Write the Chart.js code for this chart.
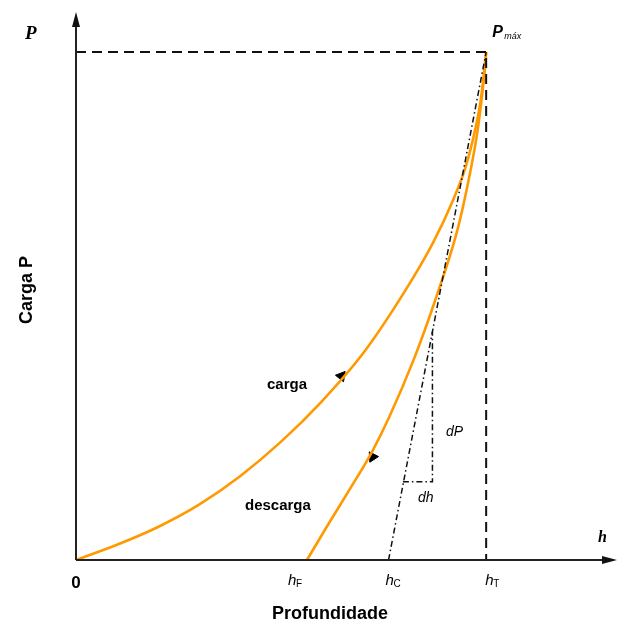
<!DOCTYPE html>
<html><head><meta charset="utf-8">
<script src="https://cdn.jsdelivr.net/npm/chart.js@4.4.0/dist/chart.umd.min.js"></script>
<style>html,body{margin:0;padding:0;background:#fff}#wrap{width:624px;height:627px}</style>
</head><body><div id="wrap"><canvas id="c" width="624" height="627"></canvas></div>
<script>
// Data (normalized: h/hT, P/Pmax)
const loadH = [0, 0.1, 0.2, 0.3, 0.4, 0.5, 0.6, 0.7, 0.8, 0.87, 0.92, 0.95, 0.975, 0.987, 0.995, 1.0];
const loadP = [0, 0.030, 0.065, 0.109, 0.165, 0.233, 0.313, 0.407, 0.527, 0.624, 0.710, 0.774, 0.854, 0.907, 0.961, 1.0];
const unloadH = [0.563, 0.611, 0.665, 0.723, 0.764, 0.825, 0.873, 0.930, 0.959, 0.979, 0.991, 0.998, 1.0];
const unloadP = [0, 0.065, 0.136, 0.215, 0.282, 0.398, 0.505, 0.650, 0.755, 0.845, 0.922, 0.975, 1.0];
const tangentH = [0.762, 1.0];
const tangentP = [0, 1.0];
const triH = [0.797, 0.869, 0.869];
const triP = [0.154, 0.154, 0.45];
const maxH = [0, 1.0, 1.0];
const maxP = [1.0, 1.0, 0];
const arrowH = [0.647, 0.723];
const arrowP = [0.362, 0.203];
const arrowRot = [39, 207];
const tickH = [0, 0.563, 0.762, 1.0];
const tickLabels = ['0', 'F', 'C', 'T'];
const X_MAX = 1.319, Y_MAX = 1.079;

const pts = (xs, ys) => xs.map((x, i) => ({x, y: ys[i]}));
const orange = '#FF9900';
const labelShift = [0, -19, -3, -1];

const deco = {
  id: 'deco',
  afterDatasetsDraw(chart) {
    const ctx = chart.ctx, xs = chart.scales.x, ys = chart.scales.y;
    const px = v => xs.getPixelForValue(v), py = v => ys.getPixelForValue(v);
    const x0 = px(0), y0 = py(0), xe = px(X_MAX), ye = py(Y_MAX);
    ctx.save();
    ctx.strokeStyle = '#222'; ctx.fillStyle = '#111'; ctx.lineWidth = 2;
    ctx.beginPath(); ctx.moveTo(x0, y0); ctx.lineTo(xe - 8, y0); ctx.stroke();
    ctx.beginPath(); ctx.moveTo(x0, y0); ctx.lineTo(x0, ye + 8); ctx.stroke();
    ctx.beginPath(); ctx.moveTo(xe, y0); ctx.lineTo(xe - 15, y0 - 4); ctx.lineTo(xe - 15, y0 + 4); ctx.closePath(); ctx.fill();
    ctx.beginPath(); ctx.moveTo(x0, ye); ctx.lineTo(x0 - 4, ye + 15); ctx.lineTo(x0 + 4, ye + 15); ctx.closePath(); ctx.fill();
    ctx.fillStyle = '#000';
    ctx.textBaseline = 'alphabetic';
    ctx.font = 'italic bold 19px "Liberation Serif"';
    ctx.textAlign = 'left';
    ctx.fillText('P', 25, 39);
    ctx.font = 'italic bold 16px "Liberation Serif"';
    ctx.fillText('h', 598, 542);
    ctx.font = 'italic bold 16px "Liberation Sans"';
    ctx.fillText('P', px(1.0) + 6, py(1.0) - 15);
    ctx.font = 'italic 9px "Liberation Sans"';
    ctx.fillText('máx', px(1.0) + 18, py(1.0) - 13);
    tickH.forEach((h, i) => {
      const x = px(h) + labelShift[i];
      if (i === 0) {
        ctx.font = 'bold 17px "Liberation Sans"'; ctx.textAlign = 'center';
        ctx.fillText(tickLabels[i], x, y0 + 28);
      } else {
        ctx.font = 'italic 15px "Liberation Sans"'; ctx.textAlign = 'left';
        ctx.fillText('h', x, y0 + 25);
        ctx.font = '10px "Liberation Sans"';
        ctx.fillText(tickLabels[i], x + 8, y0 + 27);
      }
    });
    ctx.font = 'bold 18px "Liberation Sans"'; ctx.textAlign = 'center';
    ctx.fillText('Profundidade', 330, 619);
    ctx.save(); ctx.translate(32, 290); ctx.rotate(-Math.PI / 2);
    ctx.fillText('Carga P', 0, 0); ctx.restore();
    ctx.font = 'bold 15px "Liberation Sans"'; ctx.textAlign = 'left';
    ctx.fillText('carga', 267, 389);
    ctx.fillText('descarga', 245, 510);
    ctx.font = 'italic 14px "Liberation Sans"';
    ctx.fillText('dP', 446, 436);
    ctx.fillText('dh', 418, 502);
    ctx.restore();
  }
};

new Chart(document.getElementById('c'), {
  type: 'scatter',
  data: {
    datasets: [
      {data: pts(maxH, maxP), showLine: true, borderColor: '#111', borderWidth: 2, borderDash: [10, 6], pointRadius: 0, clip: false},
      {data: pts(tangentH, tangentP), showLine: true, borderColor: '#111', borderWidth: 1.5, borderDash: [6, 3, 1.5, 3], pointRadius: 0, clip: false},
      {data: pts(triH, triP), showLine: true, borderColor: '#111', borderWidth: 1.5, borderDash: [6, 3, 1.5, 3], pointRadius: 0, clip: false},
      {data: pts(loadH, loadP), showLine: true, borderColor: orange, borderWidth: 2.6, cubicInterpolationMode: 'monotone', pointRadius: 0, clip: false},
      {data: pts(unloadH, unloadP), showLine: true, borderColor: orange, borderWidth: 2.6, cubicInterpolationMode: 'monotone', pointRadius: 0, clip: false},
      {data: pts(arrowH, arrowP), showLine: false, pointStyle: 'triangle', pointRadius: 6, rotation: arrowRot, backgroundColor: '#000', borderColor: '#000', borderWidth: 1, clip: false}
    ]
  },
  options: {
    responsive: false, animation: false,
    layout: {padding: {left: 76, right: 6, top: 12, bottom: 67}},
    plugins: {legend: {display: false}, tooltip: {enabled: false}},
    scales: {
      x: {type: 'linear', min: 0, max: X_MAX, display: false},
      y: {type: 'linear', min: 0, max: Y_MAX, display: false}
    }
  },
  plugins: [deco]
});
</script></body></html>
